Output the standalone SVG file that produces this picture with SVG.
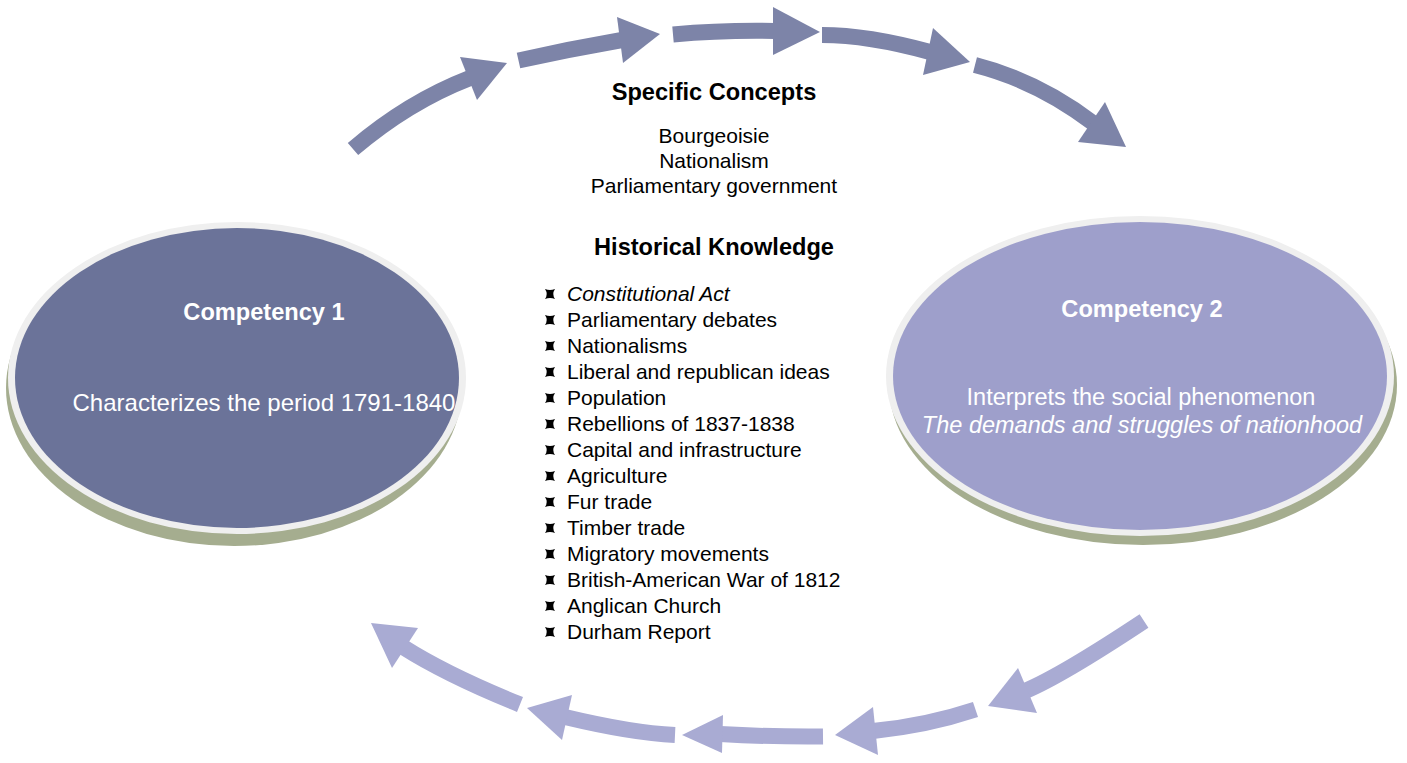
<svg xmlns="http://www.w3.org/2000/svg" xmlns:xlink="http://www.w3.org/1999/xlink" width="1407" height="763" viewBox="0 0 1407 763">
<style>
.ta{fill:#7d84a8}
.ts{fill:none;stroke:#7d84a8;stroke-width:16}
.ba{fill:#a9abd3}
.bs{fill:none;stroke:#a9abd3;stroke-width:16}
.shadow{fill:#a5ad8f}
.rim{fill:#efefef}
.t{font-family:"Liberation Sans",Arial,sans-serif;fill:#000}
.h{font-size:23.6px;font-weight:bold}
.c{font-size:21px}
.w{fill:#ffffff;font-family:"Liberation Sans",Arial,sans-serif}
</style>
<defs>
<symbol id="bul" viewBox="0 0 10 10" overflow="visible">
<path d="M0,0 Q5,1.8 10,0 Q6.6,5 10,10 Q5,8.2 0,10 Q3.4,5 0,0 Z" fill="#000"/>
</symbol>
</defs>
<rect width="1407" height="763" fill="#fff"/>

<g id="connectors">
<g id="top-arrows">
<path class="ts" d="M353,149 Q408,102 470,78"/>
<polygon class="ta" points="460,57 477,100 507,63"/>
<path class="ts" d="M518.5,60.5 Q570,49 622,40"/>
<polygon class="ta" points="617,17 623,63 660,34"/>
<path class="ts" d="M673,34.5 Q723,30 775,31"/>
<polygon class="ta" points="773,7 773,55 820,32"/>
<path class="ts" d="M822,35 Q868,35 930,52"/>
<polygon class="ta" points="933,28 923,75 970,62"/>
<path class="ts" d="M975,65 Q1038,81 1093,123"/>
<polygon class="ta" points="1105,102 1078,142 1126,147"/>
</g>
<g id="bottom-arrows">
<path class="bs" d="M1144,621 Q1061,676 1025,691"/>
<polygon class="ba" points="1018,668 1037,713 988,706"/>
<path class="bs" d="M975.5,709.5 Q927,725.6 873,731"/>
<polygon class="ba" points="873,707 878,755 835,735"/>
<path class="bs" d="M823,736.5 Q772,737 720,734"/>
<polygon class="ba" points="723,715 722,753 682,735"/>
<path class="bs" d="M675,735 Q632,733 565,717"/>
<polygon class="ba" points="572,695 562,740 527,708"/>
<path class="bs" d="M520,704.5 Q447,675 403,647"/>
<polygon class="ba" points="418,628 392,668 371,623"/>
</g>
</g>

<g id="competency1">
<ellipse class="shadow" cx="234" cy="388" rx="228" ry="158"/>
<ellipse class="rim" cx="237" cy="378" rx="229" ry="156"/>
<ellipse cx="237" cy="378" rx="222" ry="150" fill="#6b7399"/>
<text class="w" x="264" y="320" text-anchor="middle" font-size="23.6" font-weight="bold">Competency 1</text>
<text class="w" x="264" y="411" text-anchor="middle" font-size="24">Characterizes the period 1791-1840</text>
</g>

<g id="competency2">
<ellipse class="shadow" cx="1143" cy="385" rx="254" ry="160"/>
<ellipse class="rim" cx="1140" cy="376" rx="254" ry="160"/>
<ellipse cx="1140" cy="376" rx="247" ry="154" fill="#9e9fcb"/>
<text class="w" x="1142" y="317" text-anchor="middle" font-size="23.6" font-weight="bold">Competency 2</text>
<text class="w" x="1141" y="405" text-anchor="middle" font-size="23.5">Interprets the social phenomenon</text>
<text class="w" x="1142" y="432.5" text-anchor="middle" font-size="23.5" font-style="italic">The demands and struggles of nationhood</text>
</g>

<g id="specific-concepts">
<text class="t h" x="714" y="100" text-anchor="middle">Specific Concepts</text>
<text class="t c" x="714" y="143" text-anchor="middle">Bourgeoisie</text>
<text class="t c" x="714" y="168" text-anchor="middle">Nationalism</text>
<text class="t c" x="714" y="192.5" text-anchor="middle">Parliamentary government</text>
</g>

<g id="historical-knowledge">
<text class="t h" x="714" y="255" text-anchor="middle">Historical Knowledge</text>
<use href="#bul" x="545" y="289" width="10" height="10"/>
<use href="#bul" x="545" y="315" width="10" height="10"/>
<use href="#bul" x="545" y="341" width="10" height="10"/>
<use href="#bul" x="545" y="367" width="10" height="10"/>
<use href="#bul" x="545" y="393" width="10" height="10"/>
<use href="#bul" x="545" y="419" width="10" height="10"/>
<use href="#bul" x="545" y="445" width="10" height="10"/>
<use href="#bul" x="545" y="471" width="10" height="10"/>
<use href="#bul" x="545" y="497" width="10" height="10"/>
<use href="#bul" x="545" y="523" width="10" height="10"/>
<use href="#bul" x="545" y="549" width="10" height="10"/>
<use href="#bul" x="545" y="575" width="10" height="10"/>
<use href="#bul" x="545" y="601" width="10" height="10"/>
<use href="#bul" x="545" y="627" width="10" height="10"/>
<text class="t c" x="567" y="301" font-style="italic">Constitutional Act</text>
<text class="t c" x="567" y="327">Parliamentary debates</text>
<text class="t c" x="567" y="353">Nationalisms</text>
<text class="t c" x="567" y="379">Liberal and republican ideas</text>
<text class="t c" x="567" y="405">Population</text>
<text class="t c" x="567" y="431">Rebellions of 1837-1838</text>
<text class="t c" x="567" y="457">Capital and infrastructure</text>
<text class="t c" x="567" y="483">Agriculture</text>
<text class="t c" x="567" y="509">Fur trade</text>
<text class="t c" x="567" y="535">Timber trade</text>
<text class="t c" x="567" y="561">Migratory movements</text>
<text class="t c" x="567" y="587">British-American War of 1812</text>
<text class="t c" x="567" y="613">Anglican Church</text>
<text class="t c" x="567" y="639">Durham Report</text>
</g>
</svg>
